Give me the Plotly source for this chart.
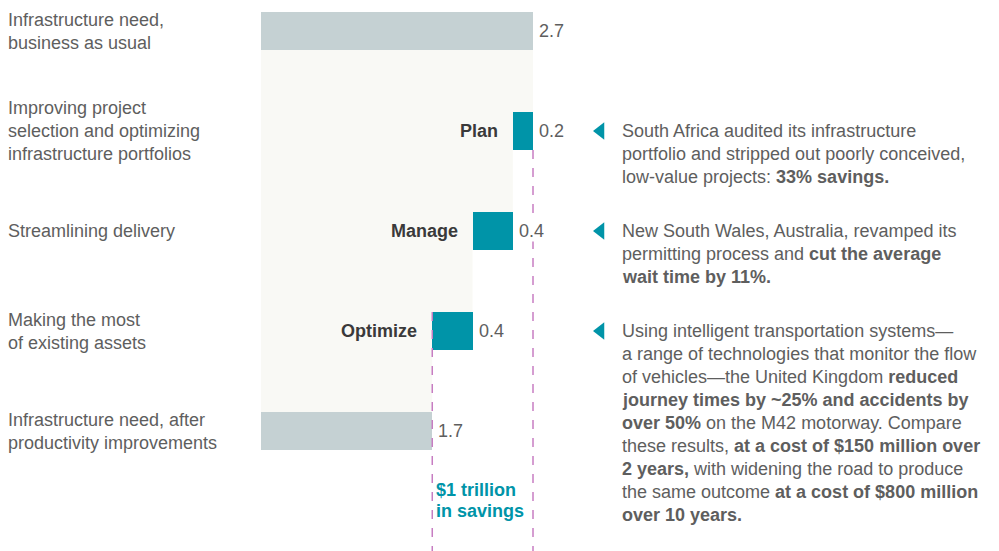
import plotly.graph_objects as go

# ---- data ----
row_labels = [
    ["Infrastructure need,", "business as usual"],
    ["Improving project", "selection and optimizing", "infrastructure portfolios"],
    ["Streamlining delivery"],
    ["Making the most", "of existing assets"],
    ["Infrastructure need, after", "productivity improvements"],
]
bar_names = ["", "Plan", "Manage", "Optimize", ""]
values = [2.7, -0.2, -0.4, -0.4, 1.7]
is_total = [True, False, False, False, True]
value_labels = ["2.7", "0.2", "0.4", "0.4", "1.7"]
notes = {
    1: ["South Africa audited its infrastructure",
        "portfolio and stripped out poorly conceived,",
        "low-value projects: <b>33% savings.</b>"],
    2: ["New South Wales, Australia, revamped its",
        "permitting process and <b>cut the average</b>",
        "<b>wait time by 11%.</b>"],
    3: ["Using intelligent transportation systems\u2014",
        "a range of technologies that monitor the flow",
        "of vehicles\u2014the United Kingdom <b>reduced</b>",
        "<b>journey times by ~25% and accidents by</b>",
        "<b>over 50%</b> on the M42 motorway. Compare",
        "these results, <b>at a cost of $150 million over</b>",
        "<b>2 years,</b> with widening the road to produce",
        "the same outcome <b>at a cost of $800 million</b>",
        "<b>over 10 years.</b>"],
}
savings_label = ["$1 trillion", "in savings"]

# ---- styles ----
GRAY = "#C5D1D3"
TEAL = "#0094A8"
BEIGE = "#F9F9F5"
PINK = "#C77DC2"
TXT = "#5e5e5e"
DARK = "#3a3a3a"
FONT = "Liberation Sans, Arial, sans-serif"
FS = 18
BW = 0.38
LINE = 0.23
PX_PER_X = 100.74          # pixels per value unit
PX_PER_Y = 100.0           # pixels per category step
W, H = 991, 543            # page has an 8px body margin
ZERO_PX, TOP_PX = 253, 23  # plot-pixel position of x=0 and of the first row
NOTE_X = 3.565             # right notes
TRI_X = 3.37               # note markers

# compute bases / ends
bases, ends = [], []
running = 0.0
for v, tot in zip(values, is_total):
    if tot:
        bases.append(0.0)
        ends.append(v)
        running = v
    else:
        new = running + v
        bases.append(new)
        ends.append(running)
        running = new

ys = list(range(len(values)))
fig = go.Figure()

# beige stepped area under the waterfall
path = f"M 0 {ys[0] + BW/2}"
prev_top = ys[0] + BW/2
for i in range(1, len(values)):
    level = ends[0] if i == 1 else bases[i - 1]
    bottom = ys[i] + BW/2 if not is_total[i] else ys[i] - BW/2
    path += f" L {level} {prev_top} L {level} {bottom}"
    prev_top = bottom
path += f" L 0 {prev_top} Z"
fig.add_shape(type="path", path=path, fillcolor=BEIGE, line=dict(width=0), layer="below")

colors = [GRAY if t else TEAL for t in is_total]
widths = [abs(e - b) for b, e in zip(bases, ends)]
fig.add_trace(go.Bar(
    y=ys, x=widths, base=bases, orientation="h", width=BW,
    marker=dict(color=colors, line=dict(width=0)), hoverinfo="skip",
))

y_bottom = (H - TOP_PX) / PX_PER_Y + 0.1
idx_first_delta = is_total.index(False)
last = len(values) - 1
fig.add_shape(type="line", x0=ends[0], x1=ends[0], y0=ys[idx_first_delta] + BW/2, y1=y_bottom,
              line=dict(color=PINK, width=1.5, dash="dash"), layer="above")
fig.add_shape(type="line", x0=values[last], x1=values[last], y0=ys[last - 1] - BW/2, y1=y_bottom,
              line=dict(color=PINK, width=1.5, dash="dash"), layer="above")

ann = []
for i in ys:
    ann.append(dict(x=max(bases[i], ends[i]), y=i, text=value_labels[i], xanchor="left",
                    xshift=5, showarrow=False, bgcolor="white", borderpad=0,
                    font=dict(size=FS, color=TXT, family=FONT)))
    if bar_names[i]:
        ann.append(dict(x=min(bases[i], ends[i]), y=i, text=f"<b>{bar_names[i]}</b>",
                        xanchor="right", xshift=-13, showarrow=False,
                        font=dict(size=FS, color=DARK, family=FONT)))
    lines = row_labels[i]
    n = len(lines)
    for k, t in enumerate(lines):
        ann.append(dict(x=0, xref="paper", xshift=-2, y=i + (k - (n - 1) / 2) * LINE, text=t,
                        xanchor="left", showarrow=False,
                        font=dict(size=FS, color=TXT, family=FONT)))
    if i in notes:
        for k, t in enumerate(notes[i]):
            ann.append(dict(x=NOTE_X, y=i + k * LINE, text=t, xanchor="left",
                            showarrow=False, font=dict(size=FS, color=TXT, family=FONT)))

for k, t in enumerate(savings_label):
    ann.append(dict(x=values[last], y=4.59 + k * 0.21, text=f"<b>{t}</b>", xanchor="left",
                    xshift=2, showarrow=False, font=dict(size=FS, color=TEAL, family=FONT)))

note_rows = sorted(notes.keys())
fig.add_trace(go.Scatter(x=[TRI_X] * len(note_rows), y=note_rows, mode="markers",
                         marker=dict(symbol="triangle-left", size=15, color=TEAL),
                         hoverinfo="skip"))

fig.update_layout(
    width=W, height=H, margin=dict(l=0, r=0, t=0, b=0),
    paper_bgcolor="white", plot_bgcolor="white", showlegend=False,
    xaxis=dict(range=[-ZERO_PX / PX_PER_X, (W - ZERO_PX) / PX_PER_X], visible=False, fixedrange=True),
    yaxis=dict(range=[(H - TOP_PX) / PX_PER_Y, -TOP_PX / PX_PER_Y], visible=False, fixedrange=True),
    annotations=ann, bargap=0,
)
fig.write_html("out.html")
